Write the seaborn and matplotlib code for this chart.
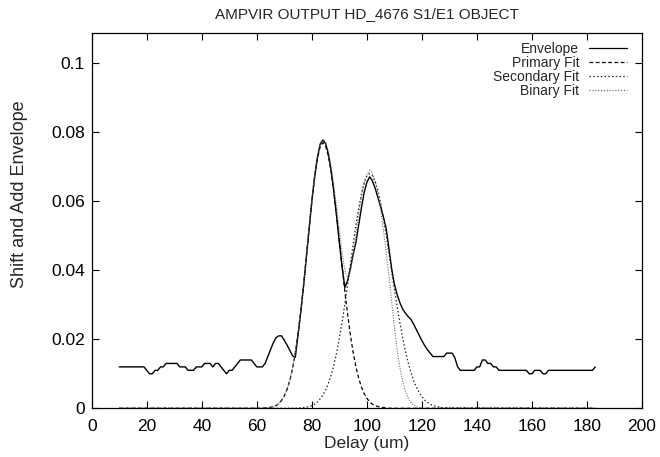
import numpy as np
import pandas as pd
import matplotlib
matplotlib.use("Agg")
import matplotlib.pyplot as plt
import seaborn as sns

# Setup
sns.set_theme(style="ticks")
plt.rcParams["font.family"] = ["Liberation Sans", "DejaVu Sans"]

# =======================
# 1. Data
# =======================
title = "AMPVIR OUTPUT HD_4676 S1/E1 OBJECT"

env_delay = list(range(10, 184))
envelope = [
    0.012, 0.012, 0.012, 0.012, 0.012, 0.012, 0.012, 0.012, 0.012, 0.012,   # 10-19
    0.011, 0.010, 0.010, 0.011, 0.011, 0.012, 0.012, 0.013, 0.013, 0.013,   # 20-29
    0.013, 0.013, 0.012, 0.012, 0.012, 0.011, 0.011, 0.011, 0.012, 0.012,   # 30-39
    0.012, 0.013, 0.013, 0.013, 0.012, 0.013, 0.013, 0.012, 0.011, 0.010,   # 40-49
    0.011, 0.011, 0.012, 0.013, 0.014, 0.014, 0.014, 0.014, 0.014, 0.013,   # 50-59
    0.012, 0.012, 0.012, 0.013, 0.015, 0.017, 0.019, 0.0205, 0.021, 0.021,  # 60-69
    0.0197, 0.0183, 0.0168, 0.0152, 0.0148, 0.0215, 0.0280, 0.0355, 0.0437, 0.0520,  # 70-79
    0.0600, 0.0670, 0.0725, 0.0765, 0.0778, 0.0768, 0.0738, 0.0690, 0.0628, 0.0556,  # 80-89
    0.0480, 0.0410, 0.0350, 0.0370, 0.0405, 0.0445, 0.0480, 0.0530, 0.0580, 0.0625,  # 90-99
    0.0655, 0.0671, 0.0660, 0.0638, 0.0612, 0.0585, 0.0555, 0.0522, 0.0465, 0.0405,  # 100-109
    0.0360, 0.0330, 0.0306, 0.0288, 0.0276, 0.0266, 0.0258, 0.0244, 0.0228, 0.0212,  # 110-119
    0.0196, 0.0182, 0.0170, 0.0160, 0.015, 0.015, 0.015, 0.015, 0.015, 0.016,   # 120-129
    0.016, 0.016, 0.0146, 0.012, 0.011, 0.011, 0.011, 0.011, 0.011, 0.011,    # 130-139
    0.012, 0.012, 0.014, 0.014, 0.013, 0.013, 0.012, 0.012, 0.011, 0.011,     # 140-149
    0.011, 0.011, 0.011, 0.011, 0.011, 0.011, 0.011, 0.011, 0.011, 0.010,     # 150-159
    0.010, 0.011, 0.011, 0.011, 0.010, 0.010, 0.011, 0.011, 0.011, 0.011,     # 160-169
    0.011, 0.011, 0.011, 0.011, 0.011, 0.011, 0.011, 0.011, 0.011, 0.011,     # 170-179
    0.011, 0.011, 0.011, 0.012,                                               # 180-183
]

# fits: 10, then 60..130, then 183
fit_delay = [10] + list(range(60, 131)) + [183]
primary_fit = [0.0,
    0.0, 0.0, 0.0, 0.0001, 0.0001, 0.0003, 0.0005, 0.0008, 0.0014, 0.0023,
    0.0036, 0.0055, 0.0081, 0.0116, 0.0161, 0.0217, 0.0283, 0.0358, 0.0439, 0.0521,
    0.0600, 0.0669, 0.0723, 0.0758, 0.0770, 0.0760, 0.0732, 0.0686, 0.0627, 0.0559,
    0.0486, 0.0411, 0.0339, 0.0273, 0.0213, 0.0163, 0.0121, 0.0088, 0.0062, 0.0043,
    0.0029, 0.0019, 0.0012, 0.0008, 0.0005, 0.0003, 0.0002, 0.0001, 0.0, 0.0,
    0.0, 0.0, 0.0, 0.0, 0.0, 0.0, 0.0, 0.0, 0.0, 0.0,
    0.0, 0.0, 0.0, 0.0, 0.0, 0.0, 0.0, 0.0, 0.0, 0.0,
    0.0,
    0.0]
secondary_fit = [0.0,
    0.0, 0.0, 0.0, 0.0, 0.0, 0.0, 0.0, 0.0, 0.0, 0.0,
    0.0, 0.0, 0.0, 0.0, 0.0, 0.0001, 0.0001, 0.0002, 0.0003, 0.0005,
    0.0008, 0.0012, 0.0018, 0.0027, 0.0038, 0.0053, 0.0072, 0.0096, 0.0125, 0.0161,
    0.0203, 0.0250, 0.0303, 0.0359, 0.0417, 0.0474, 0.0530, 0.0579, 0.0621, 0.0653,
    0.0673, 0.0680, 0.0674, 0.0658, 0.0631, 0.0595, 0.0552, 0.0504, 0.0452, 0.0399,
    0.0346, 0.0296, 0.0248, 0.0205, 0.0166, 0.0133, 0.0104, 0.0080, 0.0061, 0.0046,
    0.0034, 0.0024, 0.0017, 0.0012, 0.0008, 0.0006, 0.0004, 0.0002, 0.0002, 0.0001,
    0.0001,
    0.0]
binary_fit = [0.0,
    0.0, 0.0, 0.0, 0.0001, 0.0001, 0.0003, 0.0005, 0.0008, 0.0014, 0.0023,
    0.0036, 0.0055, 0.0081, 0.0116, 0.0162, 0.0218, 0.0285, 0.0361, 0.0443, 0.0526,
    0.0607, 0.0677, 0.0732, 0.0768, 0.0780, 0.0771, 0.0745, 0.0702, 0.0646, 0.0582,
    0.0515, 0.0451, 0.0400, 0.0378, 0.0395, 0.0445, 0.0505, 0.0562, 0.0612, 0.0652,
    0.0678, 0.0690, 0.0683, 0.0660, 0.0625, 0.0575, 0.0517, 0.0455, 0.0385, 0.0310,
    0.0235, 0.0170, 0.0118, 0.0078, 0.0050, 0.0030, 0.0017, 0.0009, 0.0005, 0.0002,
    0.0001, 0.0, 0.0, 0.0, 0.0, 0.0, 0.0, 0.0, 0.0, 0.0,
    0.0,
    0.0]

x_ticks = list(range(0, 201, 20))
y_ticks = [0, 0.02, 0.04, 0.06, 0.08, 0.1]

# =======================
# 2. Plot
# =======================
fig = plt.figure(figsize=(6.6, 4.57), dpi=100)
ax = fig.add_axes([0.139, 0.1066, 0.8337, 0.8204])

sns.lineplot(x=env_delay, y=envelope, ax=ax, color="black", lw=1.0,
             label="Envelope", sort=False, estimator=None)
sns.lineplot(x=fit_delay, y=primary_fit, ax=ax, color="black", lw=0.9,
             label="Primary Fit", sort=False, estimator=None)
sns.lineplot(x=fit_delay, y=secondary_fit, ax=ax, color="#222222", lw=0.9,
             label="Secondary Fit", sort=False, estimator=None)
sns.lineplot(x=fit_delay, y=binary_fit, ax=ax, color="#666666", lw=0.8,
             label="Binary Fit", sort=False, estimator=None)

lines = ax.get_lines()
lines[1].set_dashes([3, 2])
lines[2].set_dashes([1.2, 1.8])
lines[3].set_dashes([0.9, 1.4])

ax.set_xlim(0, 200)
ax.set_ylim(0, 0.1087)
ax.set_xticks(x_ticks)
ax.set_yticks(y_ticks)
ax.set_yticklabels([f"{v:g}" for v in y_ticks])
ax.tick_params(direction="in", top=True, right=True, length=5, width=0.8,
               labelsize=12.5, colors="black")
ax.tick_params(axis="x", pad=8)
ax.tick_params(axis="y", pad=5)
for sp in ax.spines.values():
    sp.set_color("black")
    sp.set_linewidth(0.9)

ax.set_title(title, fontsize=11, pad=11)
ax.set_xlabel("Delay (um)", fontsize=12.5, labelpad=1)
ax.set_ylabel("Shift and Add Envelope", fontsize=13)
ax.yaxis.set_label_coords(-0.115, 0.57)

leg = ax.legend(loc="upper right", bbox_to_anchor=(0.972, 0.978),
                frameon=False, markerfirst=False,
                fontsize=10, handlelength=2.7, handletextpad=0.7,
                labelspacing=0.0, borderaxespad=0, borderpad=0)
for h in leg.get_lines():
    h.set_linewidth(0.9)

fig.savefig("out.png", dpi=100)
